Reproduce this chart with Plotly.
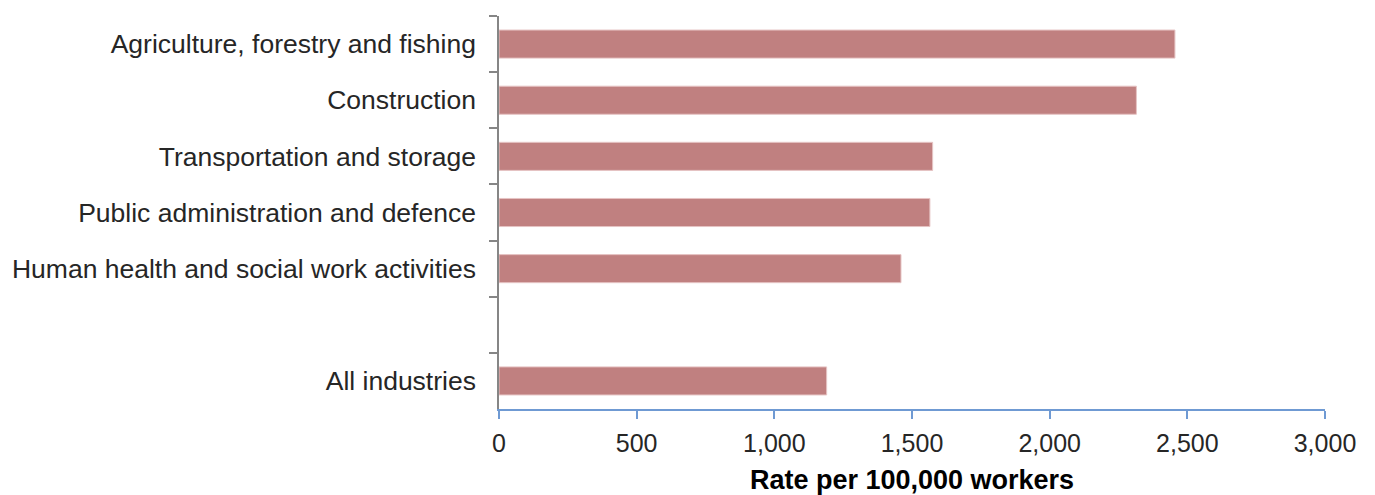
import plotly.graph_objects as go

# Injury rate by industry, per 100,000 workers
industries = [
    "Agriculture, forestry and fishing",
    "Construction",
    "Transportation and storage",
    "Public administration and defence",
    "Human health and social work activities",
    " ",
    "All industries",
]
rates = [2455, 2315, 1575, 1565, 1460, None, 1190]

x_ticks = [0, 500, 1000, 1500, 2000, 2500, 3000]
x_tick_text = ["0", "500", "1,000", "1,500", "2,000", "2,500", "3,000"]

BAR_COLOR = "#c08080"
TEXT_COLOR = "#262626"
FONT = "Liberation Sans, Arial, sans-serif"

fig = go.Figure(
    go.Bar(
        x=rates,
        y=industries,
        orientation="h",
        marker=dict(color=BAR_COLOR, line=dict(color="#e6c4c4", width=1)),
        width=0.5,
        hoverinfo="x+y",
    )
)

fig.update_layout(
    width=1375,
    height=495,
    margin=dict(l=499, r=50, t=16, b=86, autoexpand=False),
    paper_bgcolor="white",
    plot_bgcolor="white",
    showlegend=False,
    font=dict(family=FONT, size=26, color=TEXT_COLOR),
)

fig.update_xaxes(
    range=[0, 3000],
    tickvals=x_ticks,
    ticktext=x_tick_text,
    automargin=False,
    showgrid=False,
    zeroline=False,
    showline=True,
    linecolor="#6f9ad3",
    linewidth=2,
    ticks="outside",
    ticklen=8,
    tickwidth=2,
    tickcolor="#6f9ad3",
    ticklabelstandoff=3,
    tickfont=dict(size=25, color=TEXT_COLOR),
    title=dict(
        text="<b>Rate per 100,000 workers</b>",
        font=dict(size=27, color="#000000"),
        standoff=14,
    ),
)

fig.update_yaxes(
    type="category",
    categoryorder="array",
    categoryarray=industries,
    autorange="reversed",
    automargin=False,
    showgrid=False,
    zeroline=False,
    showline=True,
    linecolor="#868686",
    linewidth=1.5,
    ticks="outside",
    tickson="boundaries",
    ticklen=8,
    tickwidth=1.5,
    tickcolor="#868686",
    ticklabelstandoff=16,
    tickfont=dict(size=26.5, color=TEXT_COLOR),
)

fig.write_html("out.html")
